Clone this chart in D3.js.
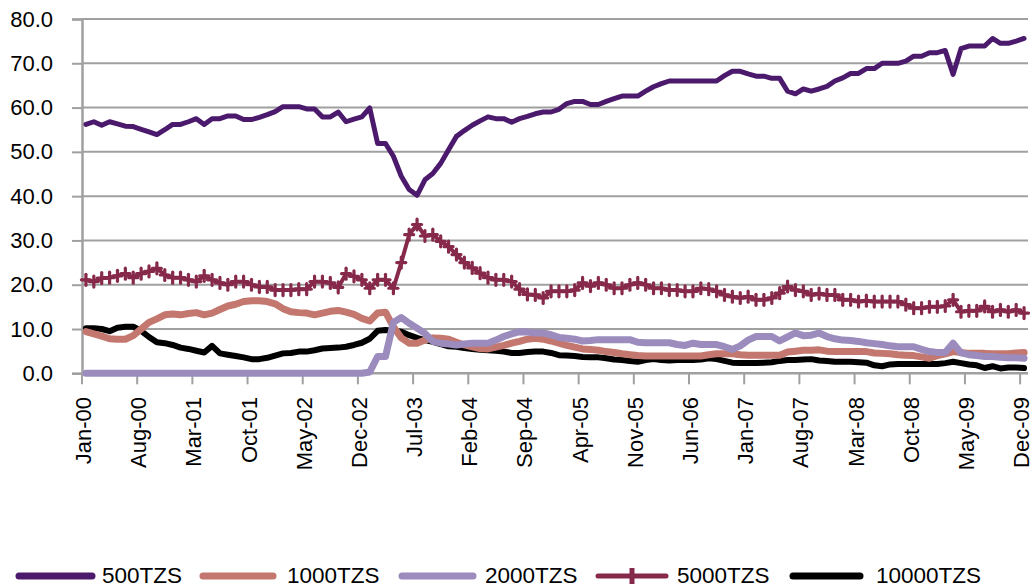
<!DOCTYPE html>
<html><head><meta charset="utf-8">
<script src="https://cdn.jsdelivr.net/npm/d3@7"></script>
<style>body{margin:0;background:#fff}svg{display:block}text{font-family:"Liberation Sans",Arial,Helvetica,sans-serif;fill:#000}</style>
</head><body><svg id="c" width="1036" height="587"></svg>
<script>
const monthNames = ["Jan","Feb","Mar","Apr","May","Jun","Jul","Aug","Sep","Oct","Nov","Dec"];
const months = [];
for (let yy = 0; yy < 10; yy++) for (let m = 0; m < 12; m++) months.push(monthNames[m] + "-0" + yy);

const yTicks = [0, 10, 20, 30, 40, 50, 60, 70, 80];
const seriesNames = ["500TZS", "1000TZS", "2000TZS", "5000TZS", "10000TZS"];

const s500 = [56.2,56.8,56.0,56.8,56.3,55.8,55.7,55.1,54.5,53.9,55.0,56.2,56.2,56.8,57.5,56.2,57.5,57.5,58.1,58.1,
57.3,57.3,57.8,58.4,59.1,60.2,60.2,60.2,59.7,59.7,57.9,57.9,59.0,56.8,57.4,57.9,59.9,51.9,51.9,49.0,
44.5,41.5,40.2,43.7,45.1,47.4,50.5,53.5,54.8,56.0,57.0,57.9,57.5,57.5,56.7,57.5,58.0,58.6,59.0,59.0,
59.6,60.9,61.4,61.4,60.7,60.7,61.4,62.0,62.6,62.6,62.6,63.7,64.7,65.4,66.0,66.0,66.0,66.0,66.0,66.0,
66.0,67.2,68.2,68.2,67.6,67.1,67.1,66.6,66.6,63.7,63.1,64.2,63.7,64.2,64.8,66.0,66.7,67.7,67.7,68.8,
68.8,70.0,70.0,70.0,70.5,71.6,71.6,72.4,72.4,72.9,67.5,73.3,73.9,73.9,73.9,75.6,74.5,74.5,75.0,75.6];

const s1000 = [9.4,8.9,8.4,7.8,7.7,7.7,8.5,10.0,11.5,12.3,13.2,13.4,13.2,13.5,13.7,13.2,13.6,14.4,15.2,15.6,
16.2,16.4,16.4,16.2,15.7,14.6,13.9,13.7,13.6,13.2,13.6,14.0,14.2,13.8,13.3,12.4,11.8,13.6,13.8,10.5,
8.0,6.8,6.8,7.5,8.0,7.9,7.7,7.0,6.4,6.0,5.6,5.5,5.9,6.3,6.8,7.2,7.7,7.9,7.7,7.3,
6.8,6.3,5.9,5.5,5.4,5.2,4.9,4.7,4.4,4.2,4.0,3.9,3.9,3.9,3.9,3.9,3.9,3.9,3.9,4.2,
4.4,4.4,4.4,4.2,4.1,4.1,4.1,4.1,4.1,4.8,5.0,5.2,5.2,5.3,5.0,4.9,4.9,4.9,4.9,4.9,
4.6,4.5,4.4,4.2,4.1,4.0,3.7,3.4,4.0,4.4,4.9,4.7,4.5,4.5,4.5,4.4,4.4,4.4,4.6,4.7];

const s2000 = [0,0,0,0,0,0,0,0,0,0,0,0,0,0,0,0,0,0,0,0,
0,0,0,0,0,0,0,0,0,0,0,0,0,0,0,0,0.3,3.8,3.8,11.5,
12.6,11.3,10.2,9.0,7.2,6.8,6.6,6.4,6.6,6.8,6.8,6.8,7.5,8.3,8.9,9.4,9.3,9.1,9.1,8.7,
8.1,7.9,7.7,7.3,7.4,7.6,7.6,7.6,7.6,7.6,7.0,6.9,6.9,6.9,6.9,6.5,6.3,6.8,6.5,6.5,
6.5,6.0,5.4,6.2,7.5,8.3,8.3,8.3,7.3,8.2,9.1,8.5,8.6,9.1,8.3,7.8,7.5,7.4,7.2,6.9,
6.7,6.5,6.2,6.0,6.0,6.0,5.4,4.9,4.7,4.7,6.8,4.6,4.2,4.0,3.8,3.8,3.6,3.5,3.5,3.4];

const s5000 = [21.1,20.7,21.5,21.6,22.0,22.5,21.6,22.5,23.0,23.7,22.2,21.6,21.6,21.1,20.7,22.0,21.1,20.4,20.0,20.7,
20.7,20.0,19.5,19.5,18.8,18.8,18.8,19.0,19.0,20.7,20.7,20.4,19.4,22.5,21.9,21.1,19.2,21.1,21.1,19.2,
25.0,31.3,33.6,31.0,31.3,29.8,28.6,26.8,25.0,23.8,22.6,21.6,21.1,21.1,20.7,19.0,17.8,17.7,17.0,18.5,
18.5,18.5,18.8,20.4,19.7,20.4,20.0,19.2,19.2,20.0,20.4,20.0,19.2,19.2,18.8,18.8,18.5,18.5,19.2,19.0,
18.5,17.7,17.3,17.0,17.3,16.6,16.6,17.0,18.1,19.6,18.8,18.5,17.7,18.0,17.7,17.7,16.6,16.6,16.2,16.4,
16.2,16.2,16.2,16.2,15.5,14.7,14.7,15.0,15.0,15.2,16.6,13.9,14.1,14.1,15.1,13.9,14.3,13.9,14.3,13.6];

const s10000 = [10.2,10.2,10.0,9.5,10.3,10.5,10.5,9.6,8.2,7.0,6.8,6.4,5.8,5.5,5.1,4.7,6.2,4.5,4.2,3.9,
3.6,3.2,3.2,3.5,4.0,4.5,4.6,4.9,4.9,5.2,5.6,5.7,5.8,6.0,6.4,6.9,7.8,9.6,9.8,9.6,
9.4,8.6,8.0,7.5,7.1,6.6,6.1,6.0,5.7,5.5,5.3,5.2,5.1,4.9,4.6,4.6,4.8,4.9,4.9,4.6,
4.1,4.0,3.9,3.7,3.6,3.6,3.4,3.1,3.0,2.8,2.6,3.0,3.2,3.0,2.9,3.0,3.0,3.0,3.1,3.4,
3.2,2.8,2.4,2.3,2.3,2.3,2.4,2.5,2.8,3.0,3.0,3.1,3.2,2.9,2.8,2.6,2.6,2.6,2.5,2.4,
1.8,1.6,2.0,2.1,2.1,2.1,2.1,2.1,2.1,2.3,2.6,2.3,2.0,1.8,1.2,1.6,1.1,1.3,1.3,1.2];

const colors = ["#4b1a6c", "#c4776e", "#9b8cbd", "#86294a", "#000000"];
const widths = [5, 7, 7, 4, 6];
const data = [s500, s1000, s2000, s5000, s10000];
const drawOrder = [4, 1, 2, 0, 3];

const svg = d3.select("#c");
const plotL = 82, plotR = 1028, plotT = 19, plotB = 373.3;

const x = d3.scaleBand().domain(months).range([plotL, plotR]);
const y = d3.scaleLinear().domain([0, 80]).range([plotB, plotT]);
const cx = d => x(d) + x.bandwidth() / 2;

// gridlines
svg.append("g").selectAll("line").data(yTicks.filter(t => t > 0)).join("line")
  .attr("x1", plotL).attr("x2", plotR).attr("y1", d => y(d)).attr("y2", d => y(d))
  .attr("stroke", "#a0a0a0").attr("stroke-width", 2);

// y axis
const yAxis = d3.axisLeft(y).tickValues(yTicks).tickSize(10).tickPadding(19).tickFormat(d3.format(".1f"));
const gy = svg.append("g").attr("transform", `translate(${plotL},0)`).call(yAxis);
gy.select(".domain").attr("stroke", "#a0a0a0").attr("stroke-width", 2.5);
gy.selectAll(".tick line").attr("stroke", "#a0a0a0").attr("stroke-width", 2);
gy.selectAll(".tick text").attr("font-size", 22).attr("font-family", "Liberation Sans, Arial, sans-serif").attr("fill", "#000");

// x axis
const xTickIdx = d3.range(0, 120, 7);
const xBound = d3.scaleLinear().domain([0, 120]).range([plotL, plotR]);
const gx = svg.append("g");
gx.append("line").attr("x1", plotL).attr("x2", plotR).attr("y1", plotB).attr("y2", plotB)
  .attr("stroke", "#a0a0a0").attr("stroke-width", 2.5);
gx.selectAll("line.t").data(xTickIdx).join("line").attr("class", "t")
  .attr("x1", d => xBound(d)).attr("x2", d => xBound(d)).attr("y1", plotB).attr("y2", plotB + 11)
  .attr("stroke", "#a0a0a0").attr("stroke-width", 2);
gx.selectAll("text").data(xTickIdx).join("text")
  .attr("transform", d => `translate(${cx(months[d]) - 2},397) rotate(-90)`)
  .attr("text-anchor", "end").attr("dy", "0.32em").attr("font-size", 22)
  .text(d => months[d]);

// lines
const line = d3.line().x((d, i) => cx(months[i])).y(d => y(d)).curve(d3.curveLinear);
drawOrder.forEach(k => {
  svg.append("path").datum(data[k]).attr("d", line).attr("fill", "none")
    .attr("stroke", colors[k]).attr("stroke-width", widths[k])
    .attr("stroke-linejoin", "round").attr("stroke-linecap", "round");
  if (k === 3) {
    const g = svg.append("g").attr("stroke", colors[k]).attr("stroke-width", 3.2).attr("stroke-linecap", "round");
    data[k].forEach((v, i) => {
      const px = cx(months[i]), py = y(v);
      g.append("line").attr("x1", px - 4.5).attr("x2", px + 4.5).attr("y1", py).attr("y2", py);
      g.append("line").attr("x1", px).attr("x2", px).attr("y1", py - 5.5).attr("y2", py + 5.5);
    });
  }
});

// legend
const legX = [[19, 92, 102], [203, 273, 287], [402, 473, 485], [598, 666, 677], [793, 860, 876]];
const legY = 575;
const lg = svg.append("g");
seriesNames.forEach((n, k) => {
  const [a, b, t] = legX[k];
  lg.append("line").attr("x1", a).attr("x2", b).attr("y1", legY + 1).attr("y2", legY + 1)
    .attr("stroke", colors[k]).attr("stroke-width", k === 3 ? 5 : 7).attr("stroke-linecap", "round");
  if (k === 3) {
    const m = (a + b) / 2;
    lg.append("line").attr("x1", m).attr("x2", m).attr("y1", legY - 7).attr("y2", legY + 9)
      .attr("stroke", colors[k]).attr("stroke-width", 5);
  }
  lg.append("text").attr("x", t).attr("y", legY).attr("dy", "0.35em").attr("font-size", 22.5).text(n);
});
</script></body></html>
